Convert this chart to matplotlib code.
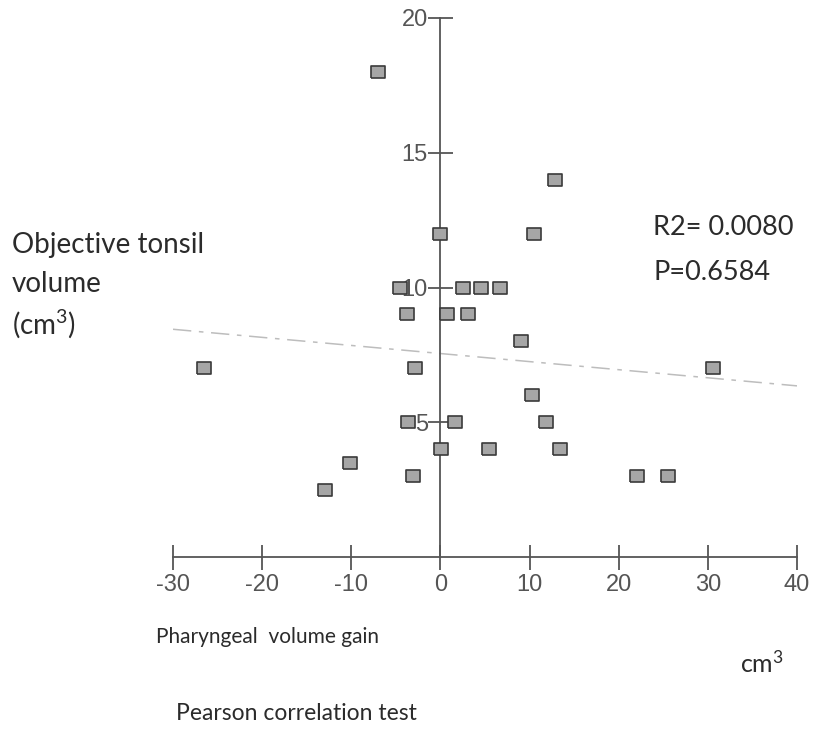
import numpy as np
import matplotlib
matplotlib.use("Agg")
import matplotlib.pyplot as plt

plt.rcParams["font.family"] = "Liberation Sans"
plt.rcParams["axes.unicode_minus"] = False
plt.rcParams["mathtext.fontset"] = "custom"
plt.rcParams["mathtext.rm"] = "Lato"
plt.rcParams["mathtext.it"] = "Lato"

# volume gain (cm3) vs objective tonsil volume (cm3)
gain = [-7.0, 12.8, 0.0, 10.5, -4.5, 2.5, 4.5, 6.7, -3.7, 0.7, 3.1, 9.0,
        -26.5, -2.9, 30.6, 10.3, -3.6, 1.6, 11.8, 0.1, 5.4, 13.4,
        -10.2, -3.1, 22.1, 25.5, -12.9]
tonsil = [18, 14, 12, 12, 10, 10, 10, 10, 9, 9, 9, 8,
          7, 7, 7, 6, 5, 5, 5, 4, 4, 4,
          3.5, 3, 3, 3, 2.5]

# trend line endpoints
fit_x = [-30, 40]
fit_y = [8.45, 6.35]

xticks = [-30, -20, -10, 0, 10, 20, 30, 40]
yticks = [5, 10, 15, 20]

fig = plt.figure(figsize=(8.16, 7.31), dpi=100)
ax = fig.add_axes([173/816, 1 - 557/731, 624/816, 539/731])

axis_col = "#555555"
lab_col = "#555555"
txt_col = "#2b2b2b"

ax.plot(fit_x, fit_y, color="#bdbdbd", lw=1.1, dashes=[12, 5, 3, 5], zorder=1)

rect = [(-1.3, -1), (1.3, -1), (1.3, 1), (-1.3, 1), (-1.3, -1)]
ax.plot(gain, tonsil, ls="none", marker=rect, ms=10.5, mfc="#a6a6a6",
        mec="#3a3a3a", mew=1.2, clip_on=False, zorder=3)

ax.set_xlim(-30, 40)
ax.set_ylim(0, 20)
for s in ["top", "right"]:
    ax.spines[s].set_visible(False)
ax.spines["left"].set_position(("data", 0))
for s in ["left", "bottom"]:
    ax.spines[s].set_color(axis_col)
    ax.spines[s].set_linewidth(1.3)

ax.set_xticks(xticks)
ax.set_xticklabels([str(v) for v in xticks])
ax.set_yticks(yticks)
ax.set_yticklabels([str(v) for v in yticks])
ax.tick_params(axis="both", direction="inout", length=18, width=1.3,
               color=axis_col, labelcolor=lab_col, labelsize=17)
ax.tick_params(axis="x", pad=3)
ax.tick_params(axis="y", pad=0)

def label(x, y, s, size):
    fig.text(x/816, 1 - y/731, s, va="center", ha="left",
             family="Lato", color=txt_col, fontsize=size)

label(12, 245, "Objective tonsil", 20)
label(12, 284, "volume", 20)
label(12, 324, r"(cm$^{\mathrm{3}}$)", 20)
label(653, 228, "R2= 0.0080", 19.5)
label(653, 273, "P=0.6584", 19.5)
label(156, 637, "Pharyngeal  volume gain", 15)
label(740, 663, r"cm$^{\mathrm{3}}$", 18)
label(176, 713, "Pearson correlation test", 16.5)

fig.savefig("out.png", dpi=100)
